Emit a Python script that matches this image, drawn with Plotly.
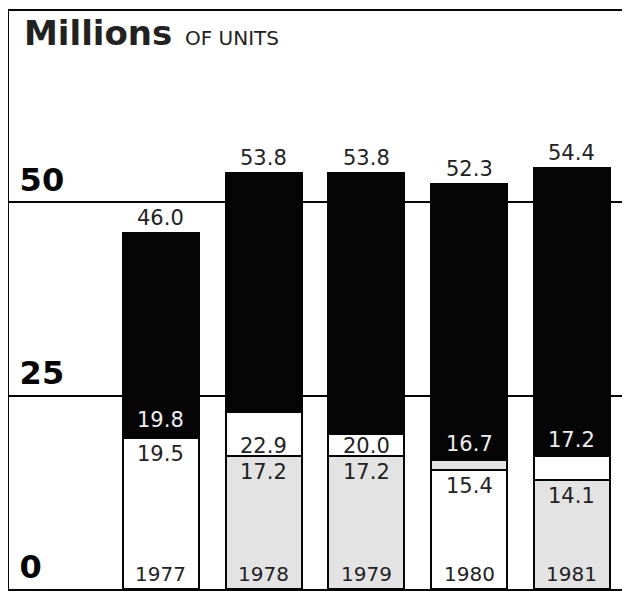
import plotly.graph_objects as go

# ---- data (millions of units) ----
years = ["1977", "1978", "1979", "1980", "1981"]
lower_vals = [19.5, 17.2, 17.2, 15.4, 14.1]   # bottom segment level
upper_vals = [19.8, 22.9, 20.0, 16.7, 17.2]   # middle segment top level
total_vals = [46.0, 53.8, 53.8, 52.3, 54.4]   # bar total
y_ticks = [0, 25, 50]

# ---- styles ----
WHITE = "#ffffff"
GRAY = "#e3e3e3"
BLACK = "#050505"
lower_colors = [WHITE, GRAY, GRAY, WHITE, GRAY]
middle_colors = [GRAY, WHITE, WHITE, GRAY, WHITE]
upper_label_inside = [False, True, True, False, False]

mid_seg = [u - l for u, l in zip(upper_vals, lower_vals)]
top_seg = [t - u for t, u in zip(total_vals, upper_vals)]

line = dict(color=BLACK, width=2)
fig = go.Figure()
fig.add_trace(go.Bar(x=years, y=lower_vals, marker=dict(color=lower_colors, line=line),
                     width=0.74, hoverinfo="skip"))
fig.add_trace(go.Bar(x=years, y=mid_seg, marker=dict(color=middle_colors, line=line),
                     width=0.74, hoverinfo="skip"))
fig.add_trace(go.Bar(x=years, y=top_seg, marker=dict(color=BLACK, line=line),
                     width=0.74, hoverinfo="skip"))

LABEL_FONT = "DejaVu Sans, sans-serif"
HEAVY_FONT = "DejaVu Sans, sans-serif"
TXT = "#222222"
ann = []
for i, yr in enumerate(years):
    ann.append(dict(x=i, y=total_vals[i], text=f"{total_vals[i]:.1f}", showarrow=False,
                    yanchor="bottom", yshift=1,
                    font=dict(family=LABEL_FONT, size=21, color=TXT)))
    ann.append(dict(x=i, y=lower_vals[i], text=f"{lower_vals[i]:.1f}", showarrow=False,
                    yanchor="top", yshift=-2,
                    font=dict(family=LABEL_FONT, size=21, color=TXT)))
    if upper_label_inside[i]:
        ann.append(dict(x=i, y=lower_vals[i], text=f"{upper_vals[i]:.1f}", showarrow=False,
                        yanchor="bottom", yshift=-4,
                        font=dict(family=LABEL_FONT, size=21, color=TXT)))
    else:
        ann.append(dict(x=i, y=upper_vals[i], text=f"{upper_vals[i]:.1f}", showarrow=False,
                        yanchor="bottom", yshift=2,
                        font=dict(family=LABEL_FONT, size=21, color="#eeeeee")))
    ann.append(dict(x=i, y=0, text=yr, showarrow=False, yanchor="bottom", yshift=1,
                    font=dict(family=LABEL_FONT, size=20, color=TXT)))

# title pieces
ann.append(dict(xref="paper", yref="paper", x=0.021, y=0.962, xanchor="left", yanchor="middle",
                text="<b>Millions</b>", showarrow=False,
                font=dict(family=HEAVY_FONT, size=34, color=TXT)))
ann.append(dict(xref="paper", yref="paper", x=0.280, y=0.953, xanchor="left", yanchor="middle",
                text="OF UNITS", showarrow=False,
                font=dict(family=LABEL_FONT, size=20, color=TXT)))

fig.update_layout(
    width=622, height=583,
    margin=dict(l=1, r=0, t=3, b=2),
    paper_bgcolor="white", plot_bgcolor="white",
    barmode="stack", showlegend=False,
    annotations=ann,
    xaxis=dict(type="category", range=[-1.479, 4.565], showgrid=False, showticklabels=False,
               ticks="", showline=True, mirror=True, linecolor=BLACK, linewidth=2, zeroline=False),
    yaxis=dict(range=[0, 74.7], tickvals=y_ticks, showgrid=True, gridcolor=BLACK, gridwidth=2,
               zeroline=False, showline=True, linecolor=BLACK, linewidth=2, ticks="",
               ticklabelposition="inside top", ticklabelstandoff=13,
               tickfont=dict(family=HEAVY_FONT, size=32, weight="bold", color=BLACK)),
)

fig.write_html("out.html")
